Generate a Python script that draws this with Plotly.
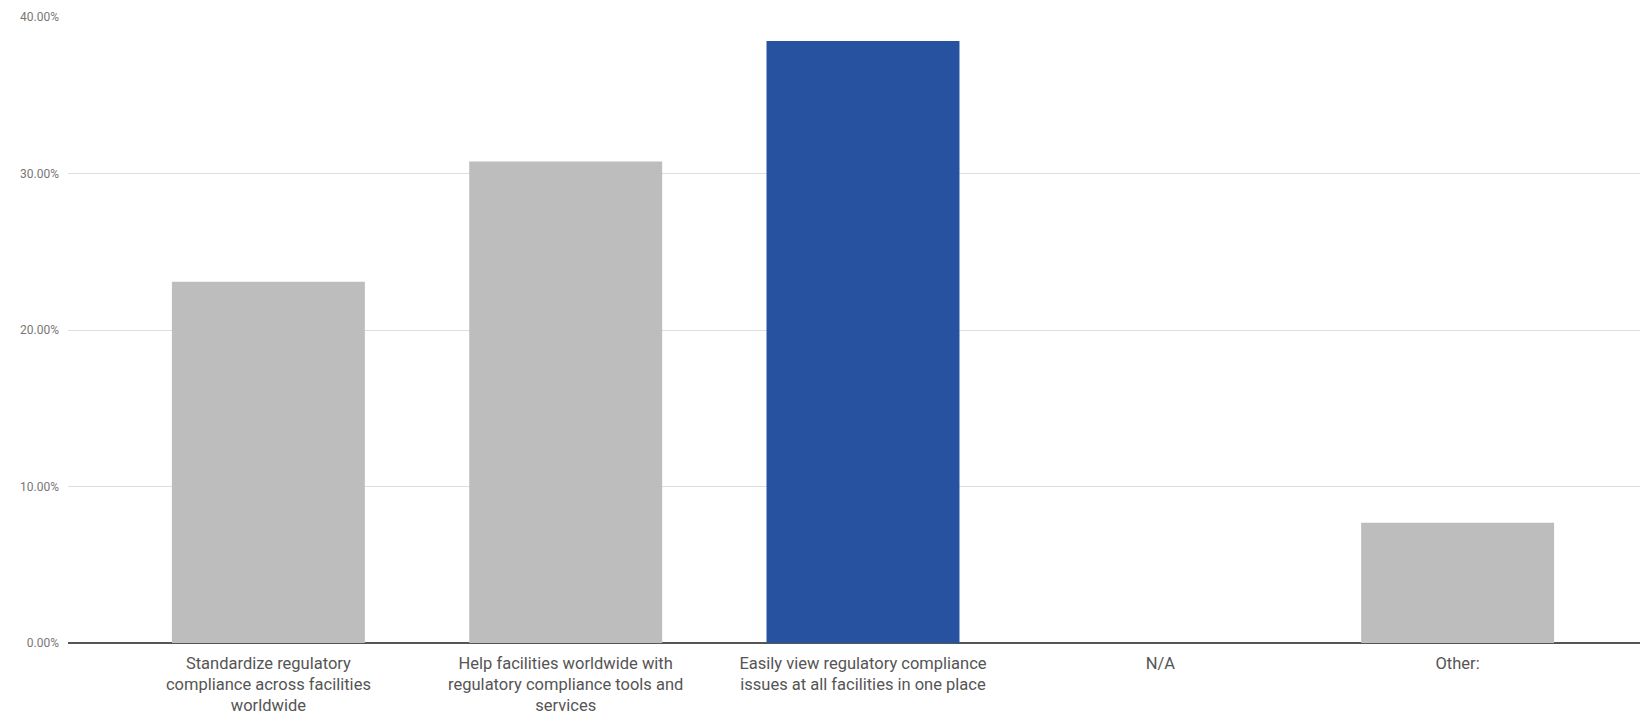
import plotly.graph_objects as go

categories = [
    "Standardize regulatory<br>compliance across facilities<br>worldwide",
    "Help facilities worldwide with<br>regulatory compliance tools and<br>services",
    "Easily view regulatory compliance<br>issues at all facilities in one place",
    "N/A",
    "Other:",
]
values = [0.2308, 0.3077, 0.3846, 0.0, 0.0769]
colors = ["#bdbdbd", "#bdbdbd", "#27529f", "#bdbdbd", "#bdbdbd"]
y_ticks = [0, 0.1, 0.2, 0.3, 0.4]

fig = go.Figure(go.Bar(
    x=list(range(len(categories))),
    y=values,
    marker=dict(color=colors, line=dict(width=0)),
))

fig.update_layout(
    width=1650, height=711,
    margin=dict(l=60, r=0, t=9, b=76),
    paper_bgcolor="white", plot_bgcolor="white",
    bargap=0.351,
    showlegend=False,
    font=dict(family="Roboto", color="#555"),
)
fig.update_xaxes(
    tickmode="array", tickvals=list(range(len(categories))), ticktext=categories,
    range=[-0.674, 4.674],
    showgrid=False, showline=False, zeroline=False,
    tickfont=dict(size=16.5, color="#555", family="Roboto"),
    ticks="", ticklen=0,
    ticklabelstandoff=8,
)
fig.update_yaxes(
    range=[0, 0.4],
    tickvals=y_ticks, tickformat=".2%",
    showgrid=True, gridcolor="#dedede", gridwidth=1,
    zeroline=True, zerolinecolor="#555", zerolinewidth=1.5,
    showline=False,
    tickfont=dict(size=12, color="#777", family="Roboto"),
    ticklabelstandoff=8,
    layer="below traces",
)

fig.write_html("out.html")
